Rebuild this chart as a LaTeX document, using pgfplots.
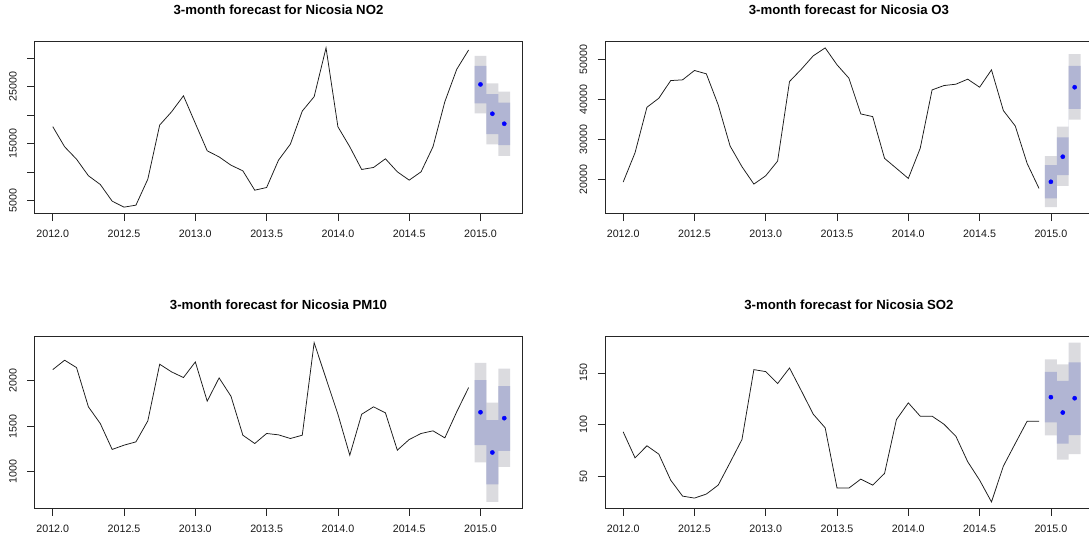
\documentclass[border=0pt]{standalone}
\usepackage{fontspec}
\setmainfont{Liberation Sans}
\usepackage{pgfplots}
\usepackage{pgfplotstable}
\pgfplotsset{compat=1.18}
\definecolor{cNF}{HTML}{DBDBDF}
\definecolor{cEI}{HTML}{B1B5D3}

\pgfplotstableread{
t v
2012.0000 18000
2012.0833 14470
2012.1667 12300
2012.2500 9400
2012.3333 7870
2012.4167 4950
2012.5000 3900
2012.5833 4250
2012.6667 8800
2012.7500 18280
2012.8333 20600
2012.9167 23400
2013.0000 18570
2013.0833 13770
2013.1667 12700
2013.2500 11250
2013.3333 10260
2013.4167 6870
2013.5000 7340
2013.5833 12130
2013.6667 14940
2013.7500 20730
2013.8333 23250
2013.9167 31800
2014.0000 17980
2014.0833 14470
2014.1667 10500
2014.2500 10850
2014.3333 12370
2014.4167 10090
2014.5000 8630
2014.5833 10090
2014.6667 14470
2014.7500 22370
2014.8333 28040
2014.9167 31430
}\dataNO

\pgfplotstableread{
t v
2012.0000 19330
2012.0833 26700
2012.1667 38100
2012.2500 40370
2012.3333 44800
2012.4167 44980
2012.5000 47330
2012.5833 46490
2012.6667 38690
2012.7500 28380
2012.8333 23190
2012.9167 18830
2013.0000 20920
2013.0833 24610
2013.1667 44560
2013.2500 47660
2013.3333 51010
2013.4167 53000
2013.5000 48750
2013.5833 45400
2013.6667 36430
2013.7500 35760
2013.8333 25280
2013.9167 22770
2014.0000 20250
2014.0833 27800
2014.1667 42460
2014.2500 43550
2014.3333 43890
2014.4167 45150
2014.5000 43130
2014.5833 47490
2014.6667 37270
2014.7500 33410
2014.8333 24020
2014.9167 17740
}\dataO

\pgfplotstableread{
t v
2012.0000 2120
2012.0833 2223
2012.1667 2142
2012.2500 1712
2012.3333 1529
2012.4167 1245
2012.5000 1292
2012.5833 1328
2012.6667 1558
2012.7500 2179
2012.8333 2095
2012.9167 2033
2013.0000 2204
2013.0833 1774
2013.1667 2029
2013.2500 1828
2013.3333 1401
2013.4167 1310
2013.5000 1420
2013.5833 1405
2013.6667 1365
2013.7500 1401
2013.8333 2415
2013.9167 2022
2014.0000 1631
2014.0833 1182
2014.1667 1631
2014.2500 1712
2014.3333 1646
2014.4167 1237
2014.5000 1354
2014.5833 1420
2014.6667 1449
2014.7500 1372
2014.8333 1657
2014.9167 1923
}\dataPM

\pgfplotstableread{
t v
2012.0000 92.9
2012.0833 67.7
2012.1667 79.4
2012.2500 71.3
2012.3333 46.1
2012.4167 30.6
2012.5000 28.7
2012.5833 32.6
2012.6667 41.3
2012.7500 63.2
2012.8333 85.5
2012.9167 153.2
2013.0000 151.3
2013.0833 139.7
2013.1667 154.8
2013.2500 132.6
2013.3333 110.0
2013.4167 96.8
2013.5000 38.4
2013.5833 38.4
2013.6667 47.1
2013.7500 41.3
2013.8333 52.6
2013.9167 104.8
2014.0000 121.0
2014.0833 108.1
2014.1667 108.1
2014.2500 100.3
2014.3333 88.7
2014.4167 63.9
2014.5000 46.1
2014.5833 25.0
2014.6667 59.7
2014.7500 81.6
2014.8333 103.2
2014.9167 103.2
}\dataSO

\pgfplotsset{
  fc/.style={
    scale only axis, width=487.6pt, height=172pt,
    anchor=south west,
    xmin=2011.8733, xmax=2015.2933,
    xtick={2012,2012.5,2013,2013.5,2014,2014.5,2015},
    xticklabels={2012.0,2012.5,2013.0,2013.5,2014.0,2014.5,2015.0},
    scaled x ticks=false, scaled y ticks=false,
    xtick pos=bottom, ytick pos=left,
    tick align=outside,
    major tick length=7.5pt,
    every tick/.style={black!85, line width=0.8pt},
    axis line style={black!85, line width=0.8pt},
    tick label style={font=\fontsize{10.7}{12}\selectfont, inner sep=0pt, text=black!90},
    xticklabel style={anchor=north},
    yticklabel style={rotate=90, anchor=base},
    xticklabel shift=9.2pt,
    yticklabel shift=10.5pt,
    title style={font=\bfseries\fontsize{13.2}{15}\selectfont, anchor=base, at={(0.5,1)}, yshift=21pt, inner sep=0pt},
  },
  ser/.style={black!90, line width=0.75pt, no marks},
  fpt/.style={only marks, mark=*, mark size=2.1pt, blue, mark options={draw=blue, fill=blue}},
}

\begin{document}
\begin{tikzpicture}
% ---------- NO2 ----------
\begin{axis}[fc, at={(34.7pt,328.5pt)},
  title={3-month forecast for Nicosia NO2},
  ymin=2788, ymax=32914,
  ytick={5000,10000,15000,20000,25000,30000},
  yticklabels={5000,,15000,,25000,}]
\addplot[fill=cNF, draw=none] coordinates {(2014.9583,30380) (2015.0417,30380) (2015.0417,25590) (2015.125,25590) (2015.125,24120) (2015.2083,24120) (2015.2083,12900) (2015.125,12900) (2015.125,14880) (2015.0417,14880) (2015.0417,20320) (2014.9583,20320)} --cycle;
\addplot[fill=cEI, draw=none] coordinates {(2014.9583,28630) (2015.0417,28630) (2015.0417,23710) (2015.125,23710) (2015.125,22190) (2015.2083,22190) (2015.2083,14770) (2015.125,14770) (2015.125,16700) (2015.0417,16700) (2015.0417,22080) (2014.9583,22080)} --cycle;
\addplot[ser] table[x=t,y=v] {\dataNO};
\addplot[fpt] coordinates {(2015,25400) (2015.0833,20260) (2015.1667,18510)};
\end{axis}
% ---------- O3 ----------
\begin{axis}[fc, at={(605.1pt,328.5pt)},
  title={3-month forecast for Nicosia O3},
  ymin=11451, ymax=54601,
  ytick={20000,30000,40000,50000},
  yticklabels={20000,30000,40000,50000}]
\addplot[fill=cNF, draw=none] coordinates {(2014.9583,25870) (2015.0417,25870) (2015.0417,33240) (2015.125,33240) (2015.125,51430) (2015.2083,51430) (2015.2083,35000) (2015.125,35000) (2015.125,18410) (2015.0417,18410) (2015.0417,13050) (2014.9583,13050)} --cycle;
\addplot[fill=cEI, draw=none] coordinates {(2014.9583,23600) (2015.0417,23600) (2015.0417,30560) (2015.125,30560) (2015.125,48500) (2015.2083,48500) (2015.2083,37690) (2015.125,37690) (2015.125,21090) (2015.0417,21090) (2015.0417,15220) (2014.9583,15220)} --cycle;
\addplot[ser] table[x=t,y=v] {\dataO};
\addplot[fpt] coordinates {(2015,19410) (2015.0833,25700) (2015.1667,43130)};
\end{axis}
% ---------- PM10 ----------
\begin{axis}[fc, at={(34.7pt,33.7pt)},
  title={3-month forecast for Nicosia PM10},
  ymin=600, ymax=2485,
  ytick={1000,1500,2000},
  yticklabels={1000,1500,2000}]
\addplot[fill=cNF, draw=none] coordinates {(2014.9583,2193) (2015.0417,2193) (2015.0417,1759) (2015.125,1759) (2015.125,2131) (2015.2083,2131) (2015.2083,1055) (2015.125,1055) (2015.125,670) (2015.0417,670) (2015.0417,1102) (2014.9583,1102)} --cycle;
\addplot[fill=cEI, draw=none] coordinates {(2014.9583,2004) (2015.0417,2004) (2015.0417,1566) (2015.125,1566) (2015.125,1938) (2015.2083,1938) (2015.2083,1230) (2015.125,1230) (2015.125,861) (2015.0417,861) (2015.0417,1292) (2014.9583,1292)} --cycle;
\addplot[ser] table[x=t,y=v] {\dataPM};
\addplot[fpt] coordinates {(2015,1653) (2015.0833,1212) (2015.1667,1588)};
\end{axis}
% ---------- SO2 ----------
\begin{axis}[fc, at={(605.1pt,33.7pt)},
  title={3-month forecast for Nicosia SO2},
  ymin=18.8, ymax=185.5,
  ytick={50,100,150},
  yticklabels={50,100,150}]
\addplot[fill=cNF, draw=none] coordinates {(2014.9583,163.2) (2015.0417,163.2) (2015.0417,158.4) (2015.125,158.4) (2015.125,179.3) (2015.2083,179.3) (2015.2083,71.3) (2015.125,71.3) (2015.125,66.1) (2015.0417,66.1) (2015.0417,89.4) (2014.9583,89.4)} --cycle;
\addplot[fill=cEI, draw=none] coordinates {(2014.9583,151) (2015.0417,151) (2015.0417,142.3) (2015.125,142.3) (2015.125,160.3) (2015.2083,160.3) (2015.2083,89.7) (2015.125,89.7) (2015.125,81.6) (2015.0417,81.6) (2015.0417,102) (2014.9583,102)} --cycle;
\addplot[ser] table[x=t,y=v] {\dataSO};
\addplot[fpt] coordinates {(2015,126.5) (2015.0833,111.6) (2015.1667,125.5)};
\end{axis}
\pgfresetboundingbox
\path[use as bounding box] (0,0) rectangle (1089pt,542pt);
\end{tikzpicture}
\end{document}
